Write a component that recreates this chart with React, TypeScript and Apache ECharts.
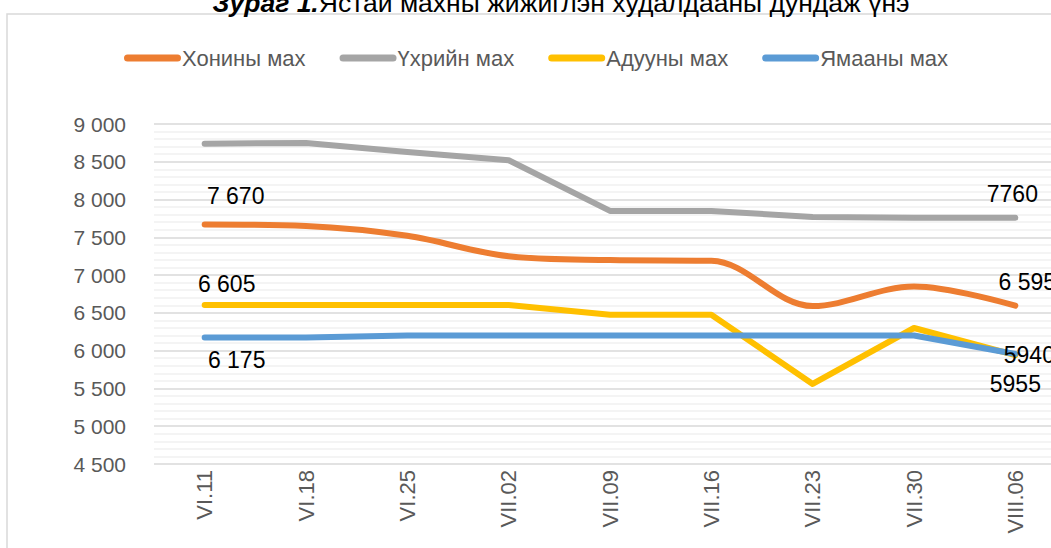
import React, { useEffect, useRef } from "react";
import * as echarts from "echarts";

const categories = ["VI.11", "VI.18", "VI.25", "VII.02", "VII.09", "VII.16", "VII.23", "VII.30", "VIII.06"];
const seriesNames = ["Хонины мах", "Үхрийн мах", "Адууны мах", "Ямааны мах"];
const sheep = [7670, 7650, 7520, 7250, 7200, 7190, 6590, 6850, 6595];
const beef = [8740, 8750, 8630, 8520, 7850, 7850, 7770, 7760, 7760];
const horse = [6605, 6605, 6605, 6605, 6475, 6475, 5560, 6300, 5940];
const goat = [6175, 6175, 6200, 6200, 6200, 6200, 6200, 6200, 5955];
const colors = ["#ED7D31", "#A5A5A5", "#FFC000", "#5B9BD5"];

const FONT = "'Liberation Sans', Arial, sans-serif";

const spaced = (v: number) => {
  const s = String(Math.round(v));
  return s.replace(/\B(?=(\d{3})+(?!\d))/g, " ");
};
const plain = (v: number) => String(Math.round(v));

type LabelSpec = { idx: number; fmt: (v: number) => string; offset: [number, number] };

const makeData = (values: number[], specs: LabelSpec[]) =>
  values.map((v, i) => {
    const spec = specs.find((s) => s.idx === i);
    if (!spec) return { value: v };
    return {
      value: v,
      label: {
        show: true,
        position: "top",
        distance: 0,
        offset: spec.offset,
        formatter: spec.fmt(v),
        color: "#000000",
        fontSize: 23,
        fontFamily: FONT,
      },
    };
  });

export default function App() {
  const ref = useRef<HTMLDivElement>(null);
  useEffect(() => {
    if (!ref.current) return;
    const chart = echarts.init(ref.current, undefined, { renderer: "svg" });
    const lineSeries = (name: string, data: any[], color: string, smooth: boolean) => ({
      name,
      type: "line",
      data,
      smooth: smooth ? 0.35 : false,
      symbol: "circle",
      symbolSize: 1,
      showSymbol: true,
      itemStyle: { color },
      lineStyle: { color, width: 6, cap: "round", join: "round" },
      label: { show: false },
      emphasis: { disabled: true },
    });
    chart.setOption({
      animation: false,
      backgroundColor: "#ffffff",
      textStyle: { fontFamily: FONT },
      graphic: [
        {
          type: "rect",
          shape: { x: 7, y: 14, width: 1200, height: 700 },
          style: { fill: "none", stroke: "#d9d9d9", lineWidth: 1.5 },
          silent: true,
        },
        {
          type: "text",
          x: 561,
          y: 16,
          style: {
            text: "{b|Зураг 1.}{r|Ястай махны жижиглэн худалдааны дундаж үнэ}",
            align: "center",
            verticalAlign: "bottom",
            rich: {
              b: { fontSize: 26.5, fontWeight: "bold", fontStyle: "italic", fontFamily: FONT, fill: "#000" },
              r: { fontSize: 26.5, fontFamily: FONT, fill: "#000" },
            },
          },
        },
      ],
      legend: {
        data: seriesNames,
        left: 119,
        top: 42,
        itemWidth: 57,
        itemHeight: 7,
        itemGap: 34,
        icon: "path://M3.5,0 L53.5,0 A3.5,3.5 0 0 1 53.5,7 L3.5,7 A3.5,3.5 0 0 1 3.5,0 Z",
        textStyle: { color: "#595959", fontSize: 22, fontFamily: FONT, padding: [0, 0, 0, -4] },
      },
      grid: { left: 154, top: 124, width: 912, height: 340, containLabel: false },
      xAxis: {
        type: "category",
        data: categories,
        boundaryGap: true,
        axisLine: { show: false },
        axisTick: { show: false },
        axisLabel: { rotate: 90, color: "#595959", fontSize: 22, fontFamily: FONT, margin: 6 },
      },
      yAxis: {
        type: "value",
        min: 4500,
        max: 9000,
        interval: 500,
        axisLine: { show: false },
        axisTick: { show: false },
        axisLabel: { color: "#595959", fontSize: 21, fontFamily: FONT, margin: 28, formatter: (v: number) => spaced(v) },
        splitLine: { show: true, lineStyle: { color: "#d9d9d9", width: 1.5 } },
        minorTick: { show: false, splitNumber: 5 },
        minorSplitLine: { show: true, lineStyle: { color: "#f0f0f0", width: 1.5 } },
      },
      series: [
        lineSeries(
          seriesNames[0],
          makeData(sheep, [
            { idx: 0, fmt: spaced, offset: [31, -16] },
            { idx: 8, fmt: spaced, offset: [12, -12] },
          ]),
          colors[0],
          true
        ),
        lineSeries(seriesNames[1], makeData(beef, [{ idx: 8, fmt: plain, offset: [-3, -12] }]), colors[1], false),
        lineSeries(
          seriesNames[2],
          makeData(horse, [
            { idx: 0, fmt: spaced, offset: [22, -9] },
            { idx: 8, fmt: plain, offset: [14, 12] },
          ]),
          colors[2],
          false
        ),
        lineSeries(
          seriesNames[3],
          makeData(goat, [
            { idx: 0, fmt: spaced, offset: [32, 35] },
            { idx: 8, fmt: plain, offset: [0, 42] },
          ]),
          colors[3],
          false
        ),
      ],
    });
    return () => chart.dispose();
  }, []);
  return (
    <div
      ref={ref}
      style={{ position: "fixed", left: 0, top: 0, width: 1090, height: 548, background: "#fff" }}
    />
  );
}
